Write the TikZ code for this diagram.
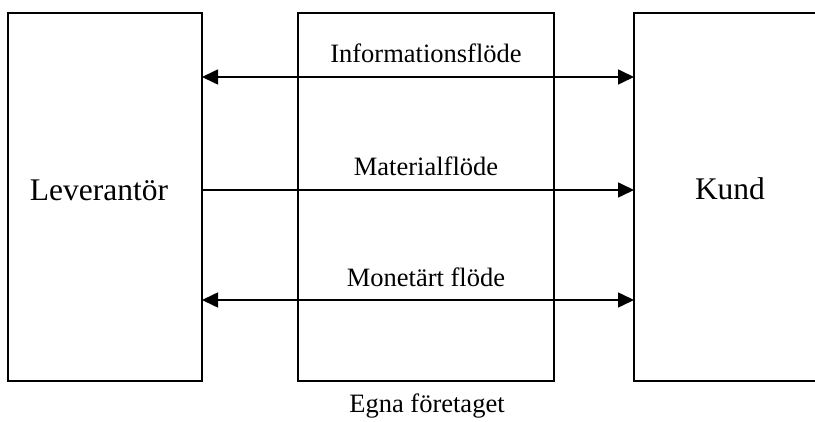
\documentclass[tikz,border=0pt]{standalone}
\usepackage{fontspec}
\setmainfont{Liberation Serif}
\usetikzlibrary{arrows.meta}
\begin{document}
\begin{tikzpicture}[x=1pt,y=-1pt,
  tip/.style={Triangle[length=16pt,width=15pt]},
  box/.style={draw, line width=1.6pt, inner sep=0pt, outer sep=0pt},
  flow/.style={line width=1.6pt, -{Triangle[length=16pt,width=15pt]}},
  flowboth/.style={line width=1.6pt, {Triangle[length=16pt,width=15pt]}-{Triangle[length=16pt,width=15pt]}},
  party/.style={font=\fontsize{31.5}{36}\selectfont, anchor=base, inner sep=0pt},
  lbl/.style={font=\fontsize{26.5}{30}\selectfont, anchor=base, inner sep=0pt}]
\useasboundingbox (0,0) rectangle (815,422);
\clip (0,0) rectangle (815,422);

% the three parties
\node[box, minimum width=194pt, minimum height=368pt] (leverantor) at (105,197) {};
\node[box, minimum width=256pt, minimum height=368pt] (foretag) at (426,197) {};
\node[box, minimum width=220pt, minimum height=368pt] (kund) at (744,197) {};

\node[party] (levtext) at (99,201) {Leverantör};
\node[party] (kundtext) at (730,200) {Kund};
\node[lbl] (egna) at (427,413) {Egna företaget};

% flow rows
\coordinate (rowinfo) at (0,77);
\coordinate (rowmat) at (0,190);
\coordinate (rowmon) at (0,300);

\draw[flowboth] (leverantor.east |- rowinfo) -- (kund.west |- rowinfo);
\draw[flow] (leverantor.east |- rowmat) -- (kund.west |- rowmat);
\draw[flowboth] (leverantor.east |- rowmon) -- (kund.west |- rowmon);

\node[lbl] (info) at (426,63) {Informationsflöde};
\node[lbl] (mat) at (426,176) {Materialflöde};
\node[lbl] (mon) at (426,287) {Monetärt flöde};
\end{tikzpicture}
\end{document}
